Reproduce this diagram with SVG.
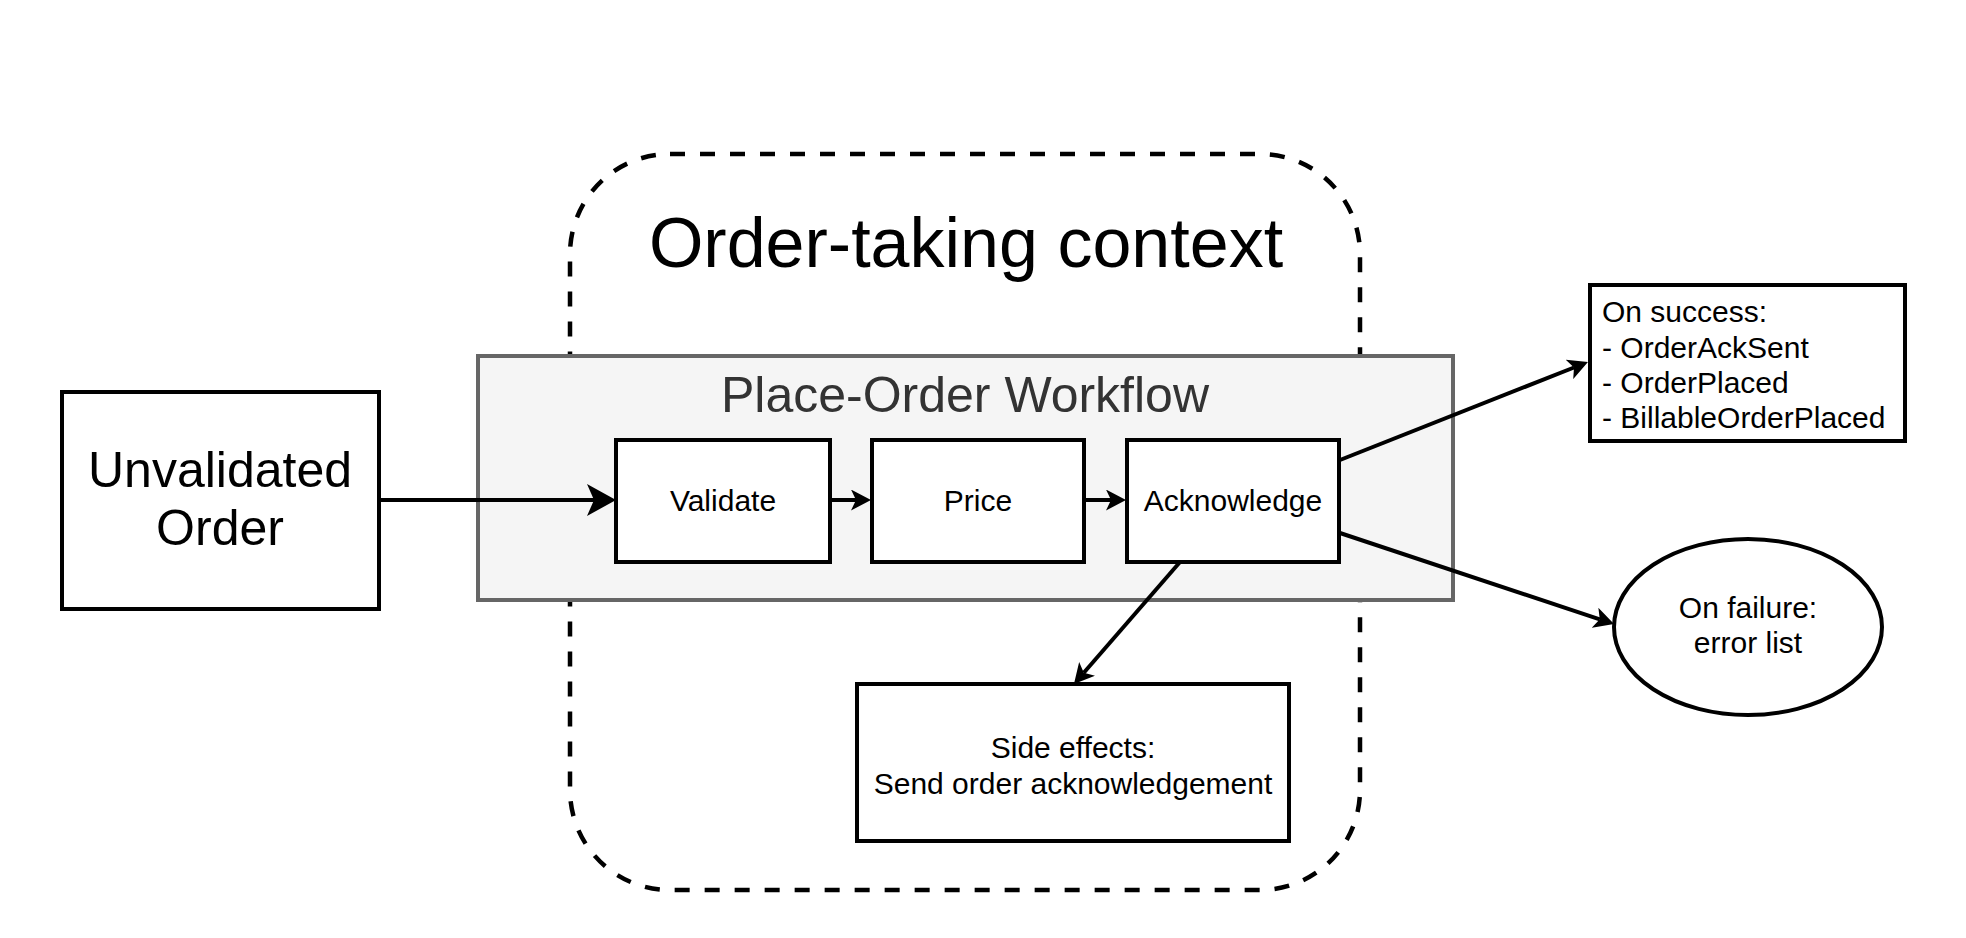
<svg xmlns="http://www.w3.org/2000/svg" width="1966" height="938" viewBox="0 0 1966 938">
<style>
text { font-family: "Liberation Sans", Arial, Helvetica, sans-serif; fill: #000; }
.box { fill: #fff; stroke: #000; stroke-width: 4; }
.edge { fill: none; stroke: #000; stroke-width: 4; }
.t30 { font-size: 30px; }
.mid { text-anchor: middle; }
</style>
<defs>
<marker id="bigArrow" markerUnits="userSpaceOnUse" markerWidth="30" markerHeight="32" refX="7" refY="16" orient="auto">
<path d="M0,0 L29,16 L0,32 L7,16 Z" fill="#000"/>
</marker>
<marker id="arrow" markerUnits="userSpaceOnUse" markerWidth="21" markerHeight="21" refX="5" refY="10.5" orient="auto">
<path d="M0,0 L20,10.5 L0,21 L5,10.5 Z" fill="#000"/>
</marker>
</defs>
<rect width="1966" height="938" fill="#fff"/>

<g id="context">
<rect x="570" y="154" width="790" height="736" rx="100" ry="100" fill="none" stroke="#000" stroke-width="4.5" stroke-dasharray="15 15"/>
<text x="966" y="267" class="mid" font-size="70">Order-taking context</text>
</g>

<g id="workflow">
<rect x="478" y="356" width="975" height="244" fill="#f5f5f5" stroke="#666" stroke-width="4"/>
<text x="965" y="412" class="mid" font-size="50" style="fill:#333">Place-Order Workflow</text>
</g>

<g id="unvalidated-order">
<rect class="box" x="62" y="392" width="317" height="217"/>
<text x="220" y="487" class="mid" font-size="50">Unvalidated</text>
<text x="220" y="545" class="mid" font-size="50">Order</text>
</g>

<g id="validate">
<rect class="box" x="616" y="440" width="214" height="122"/>
<text x="723" y="511" class="mid t30">Validate</text>
</g>

<g id="price">
<rect class="box" x="872" y="440" width="212" height="122"/>
<text x="978" y="511" class="mid t30">Price</text>
</g>

<g id="acknowledge">
<rect class="box" x="1127" y="440" width="212" height="122"/>
<text x="1233" y="511" class="mid t30">Acknowledge</text>
</g>

<g id="on-success">
<rect class="box" x="1590" y="285" width="315" height="156"/>
<text x="1602" y="322" class="t30">On success:</text>
<text x="1602" y="358" class="t30">- OrderAckSent</text>
<text x="1602" y="393" class="t30">- OrderPlaced</text>
<text x="1602" y="428" class="t30">- BillableOrderPlaced</text>
</g>

<g id="on-failure">
<ellipse class="box" cx="1748" cy="627" rx="134" ry="88"/>
<text x="1748" y="618" class="mid t30">On failure:</text>
<text x="1748" y="653" class="mid t30">error list</text>
</g>

<g id="side-effects">
<rect class="box" x="857" y="684" width="432" height="157"/>
<text x="1073" y="758" class="mid t30">Side effects:</text>
<text x="1073" y="794" class="mid t30">Send order acknowledgement</text>
</g>

<g id="connectors">
<line class="edge" x1="379" y1="500" x2="594" y2="500" marker-end="url(#bigArrow)"/>
<line class="edge" x1="830" y1="500" x2="856" y2="500" marker-end="url(#arrow)"/>
<line class="edge" x1="1084" y1="500" x2="1111" y2="500" marker-end="url(#arrow)"/>
<line class="edge" x1="1340" y1="460" x2="1574" y2="367.5" marker-end="url(#arrow)"/>
<line class="edge" x1="1340" y1="533" x2="1599.8" y2="619.3" marker-end="url(#arrow)"/>
<line class="edge" x1="1180" y1="562" x2="1083.8" y2="672.7" marker-end="url(#arrow)"/>
</g>
</svg>
